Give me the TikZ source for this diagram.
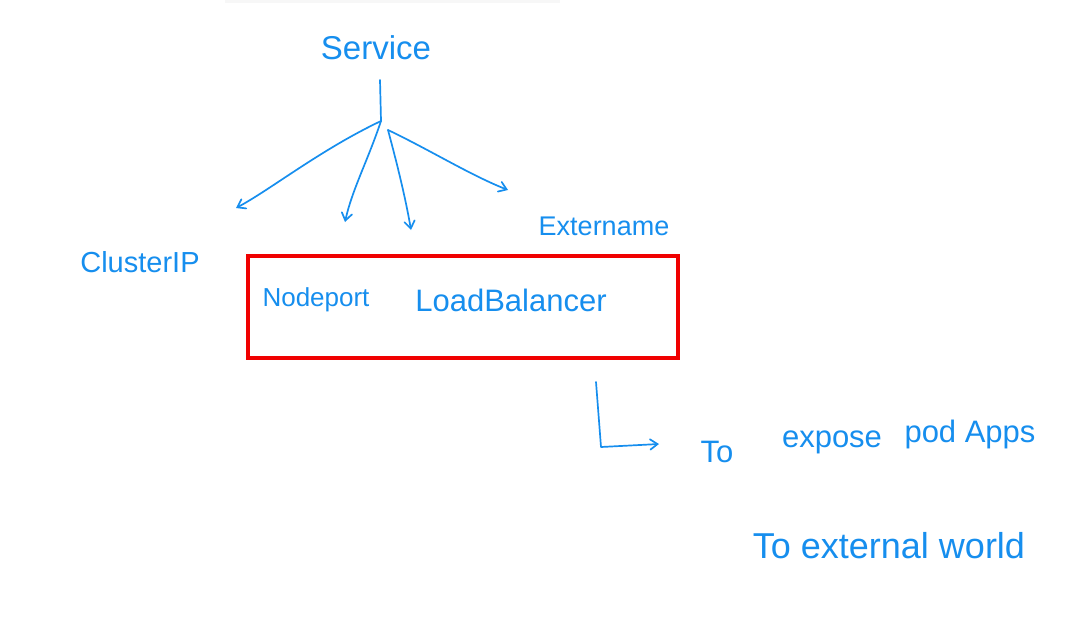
\documentclass[tikz,border=0pt]{standalone}
\usepackage{fontspec}
\setmainfont{Liberation Sans}
\usetikzlibrary{arrows.meta}
\definecolor{ink}{RGB}{22,142,238}
\definecolor{boxred}{RGB}{240,0,0}
\tikzset{
  hand/.style={draw=ink, line width=1.7pt, line cap=round, line join=round},
  handarrow/.style={hand, -{Straight Barb[angle=70:9pt, line cap=round]}},
  lbl/.style={text=ink, inner sep=0pt, anchor=center},
}
\begin{document}
\begin{tikzpicture}[x=1pt,y=-1pt]
\useasboundingbox (0,0) rectangle (1091,622);
\fill[gray!6] (225,0) rectangle (560,3);
% labels
\node[lbl, font=\fontsize{33}{35}\selectfont] (service) at (376,48) {Service};
\node[lbl, font=\fontsize{29}{31}\selectfont] (cluster) at (140,262) {ClusterIP};
\node[lbl, font=\fontsize{26}{28}\selectfont] (nodeport) at (316,300) {Nodeport};
\node[lbl, font=\fontsize{31}{33}\selectfont] (lb) at (511,300) {LoadBalancer};
\node[lbl, font=\fontsize{27}{29}\selectfont] (extname) at (604,226) {Extername};
\node[lbl, font=\fontsize{31}{33}\selectfont] (to1) at (717,452) {To};
\node[lbl, font=\fontsize{31}{33}\selectfont] (expose) at (832,442) {expose};
\node[lbl, font=\fontsize{31}{33}\selectfont] (podapps) at (970,434) {pod Apps};
\node[lbl, font=\fontsize{36}{38}\selectfont] (world) at (889,546) {To external world};
% red box
\node[draw=boxred, line width=4pt, minimum width=430pt, minimum height=102pt, inner sep=0pt] (box) at (463,307) {};
% trunk and branches
\coordinate (top) at (380,80);
\coordinate (hub) at (381,121);
\coordinate (hubb) at (388,130);
\coordinate (a1) at (236,208);
\coordinate (a2) at (345,222);
\coordinate (a3) at (411,230);
\coordinate (a4) at (508,190);
\draw[hand] (top) -- (hub);
\draw[handarrow] (hub) .. controls (320,150) and (270,190) .. (a1);
\draw[handarrow] (hub) .. controls (368,160) and (352,190) .. (a2);
\draw[handarrow] (hubb) .. controls (396,160) and (405,195) .. (a3);
\draw[handarrow] (hubb) .. controls (430,150) and (470,175) .. (a4);
% elbow
\coordinate (e0) at (596,382);
\coordinate (e1) at (601,447);
\coordinate (e2) at (659,444);
\draw[handarrow] (e0) -- (e1) -- (e2);
\end{tikzpicture}
\end{document}
